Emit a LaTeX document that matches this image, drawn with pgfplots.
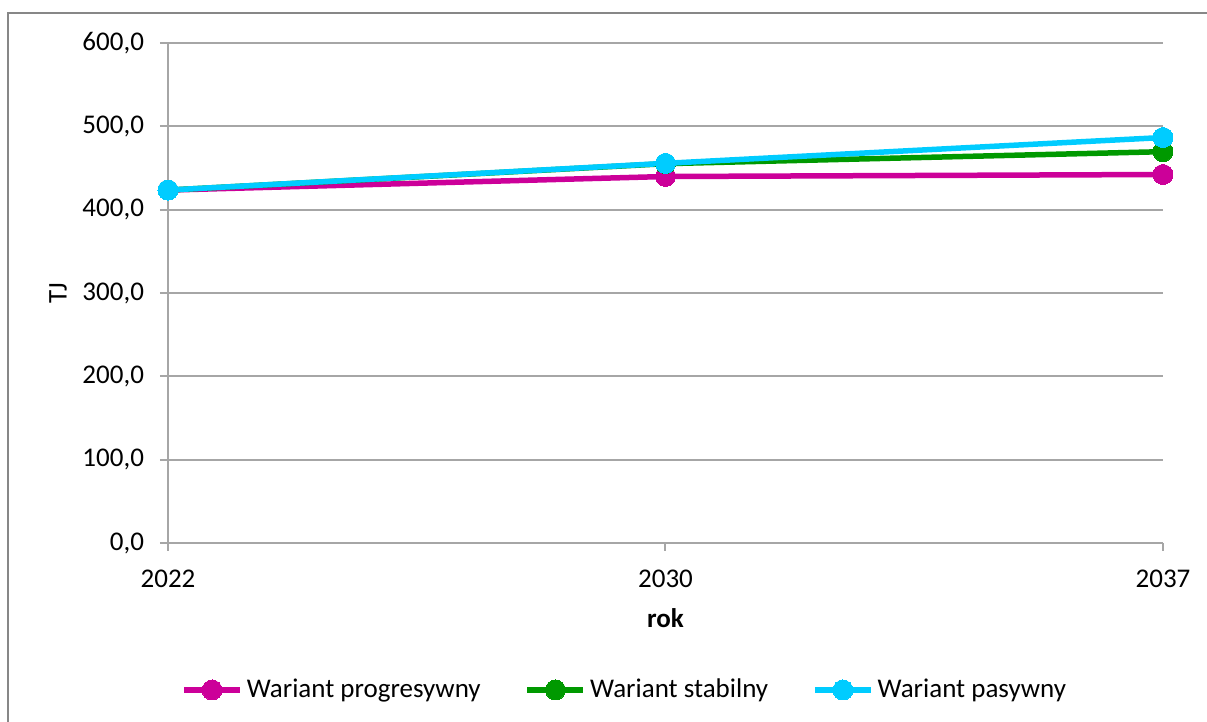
\documentclass[border=0pt]{standalone}
\usepackage{pgfplots}
\pgfplotsset{compat=1.18}
\usepackage{fontspec}
\setmainfont{Carlito}
\definecolor{cprog}{HTML}{CC0099}
\definecolor{cstab}{HTML}{009900}
\definecolor{cpas}{HTML}{00CCFF}
\definecolor{gridc}{HTML}{A6A6A6}
\definecolor{framec}{HTML}{878787}
\newcommand{\cfont}{\fontsize{13.5}{16}\selectfont}
\begin{document}
\begin{tikzpicture}[font=\cfont]
\useasboundingbox (-84pt,-89.5pt) rectangle (519.5pt,271.5pt);
\draw[framec, line width=1pt] (-80pt,-89.5pt) -- (-80pt,265pt) -- (519.5pt,265pt);
\begin{axis}[
  at={(0pt,0pt)}, anchor=south west,
  scale only axis, width=497.5pt, height=250pt,
  xmin=0, xmax=2, ymin=0, ymax=600,
  xtick={0,1,2}, xticklabels={2022,2030,2037},
  ytick={0,100,...,600},
  axis x line*=bottom, axis y line*=left,
  axis line style={gridc, line width=1pt, -},
  tick style={gridc, line width=1pt},
  tick align=outside, major tick length=4pt,
  ymajorgrids, grid style={gridc, line width=1pt},
  clip=false,
  tick label style={font=\cfont},
  /pgf/number format/assume math mode=true,
  /pgf/number format/fixed,
  /pgf/number format/fixed zerofill,
  /pgf/number format/precision=1,
  /pgf/number format/use comma,
  /pgf/number format/1000 sep={},
  yticklabel style={xshift=-4.5pt},
  xticklabel style={yshift=-6pt},
  ylabel={TJ},
  ylabel style={at={(axis description cs:-0.1106,0.5)}, rotate=0, anchor=center, font=\cfont},
  xlabel={\textbf{rok}},
  xlabel style={at={(axis description cs:0.5,-0.15)}, anchor=center, font=\cfont},
  legend columns=3,
  legend style={at={(axis description cs:0.46,-0.294)}, anchor=center, draw=none, fill=none, font=\cfont,
    /tikz/every even column/.append style={column sep=20pt}},
  legend image code/.code={\draw[mark repeat=2,mark phase=2,#1] plot coordinates {(0pt,0pt)(14pt,0pt)(28pt,0pt)};},
  every axis plot/.append style={line width=2.75pt, mark=*, mark size=5pt},
]
\addplot[cprog, mark options={fill=cprog, draw=cprog, line width=0pt}] coordinates {(0,423.5) (1,439.8) (2,442.2)};
\addlegendentry{Wariant progresywny}
\addplot[cstab, mark options={fill=cstab, draw=cstab, line width=0pt}] coordinates {(0,423.5) (1,455.2) (2,469.6)};
\addlegendentry{Wariant stabilny}
\addplot[cpas, mark options={fill=cpas, draw=cpas, line width=0pt}] coordinates {(0,423.5) (1,455.6) (2,486.6)};
\addlegendentry{Wariant pasywny}
\end{axis}
\end{tikzpicture}
\end{document}
